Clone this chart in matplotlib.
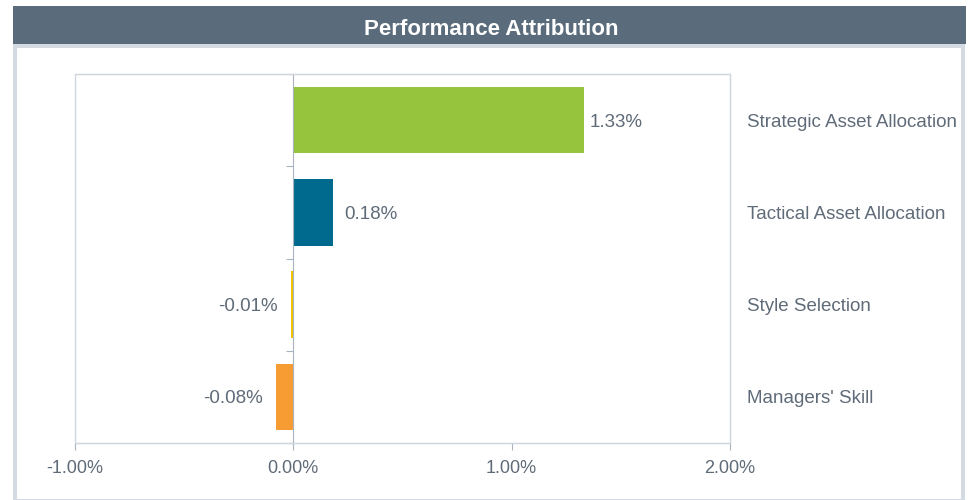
import matplotlib.pyplot as plt
from matplotlib.patches import Rectangle

# 數據
categories = ["Strategic Asset Allocation", "Tactical Asset Allocation", "Style Selection", "Managers' Skill"]
values = [1.33, 0.18, -0.01, -0.08]
colors = ["#97c43d", "#006a8e", "#f5c400", "#f79c32"]
x_ticks = [-1.0, 0.0, 1.0, 2.0]

TEXT = "#5f6b78"
FRAME = "#cfd6df"
ZERO = "#a9b4c1"
label_pad = [4.5, 8.5, 9.5, 9.5]  # 數值標籤與柱尾距離 (pt)

plt.rcParams["font.family"] = ["Liberation Sans", "DejaVu Sans"]

W, H = 973, 500
fig = plt.figure(figsize=(W / 100, H / 100), dpi=100)

# 標題帶與外框
fig.patches.append(Rectangle((15 / W, 1 - 501 / H), 948 / W, 455 / H, transform=fig.transFigure,
                             facecolor="white", edgecolor="#d3dae2", lw=2.9, zorder=-10))
fig.patches.append(Rectangle((13 / W, 1 - 44 / H), 953 / W, 38 / H, transform=fig.transFigure,
                             facecolor="#5a6b7b", edgecolor="none", zorder=-9))
fig.text(491 / W, 1 - 35 / H, "Performance Attribution", color="white", fontsize=16,
         fontweight="bold", ha="center", va="baseline")

ax = fig.add_axes([75 / W, 1 - 443 / H, 655 / W, 369 / H])
ax.patch.set_visible(False)
y = list(range(len(categories)))
ax.barh(y, values, height=0.72, color=colors)
ax.set_xlim(-1, 2)
ax.set_ylim(len(categories) - 0.5, -0.5)

# 數值標籤
for yi, v, pad in zip(y, values, label_pad):
    if v >= 0:
        ax.annotate(f"{v:.2f}%", (v, yi), xytext=(pad, 0), textcoords="offset points",
                    ha="left", va="center_baseline", color=TEXT, fontsize=13.5)
    else:
        ax.annotate(f"{v:.2f}%", (v, yi), xytext=(-pad, 0), textcoords="offset points",
                    ha="right", va="center_baseline", color=TEXT, fontsize=13.5)

# 軸樣式
for side in ["top", "right", "bottom"]:
    ax.spines[side].set_color(FRAME)
ax.spines["left"].set_position(("data", 0))
ax.spines["left"].set_color(ZERO)
ax.add_patch(Rectangle((0, 0), 1, 1, transform=ax.transAxes, fill=False, edgecolor=FRAME, lw=1,
                       clip_on=False, zorder=0))
ax.set_yticks([i - 0.5 for i in range(len(categories) + 1)])
ax.set_yticklabels([])
ax.tick_params(axis="y", direction="out", length=5, color=ZERO)
ax.set_xticks(x_ticks)
ax.set_xticklabels([f"{t:.2f}%" for t in x_ticks])
ax.tick_params(axis="x", direction="out", length=5, color=ZERO, labelcolor=TEXT, labelsize=13, pad=7)

# 右側類別標籤
ax2 = ax.twinx()
ax2.set_ylim(ax.get_ylim())
ax2.set_yticks(y)
ax2.set_yticklabels(categories)
ax2.tick_params(axis="y", length=0, pad=12, labelcolor=TEXT, labelsize=13.5)
for s in ax2.spines.values():
    s.set_visible(False)

fig.savefig("out.png", dpi=100)
